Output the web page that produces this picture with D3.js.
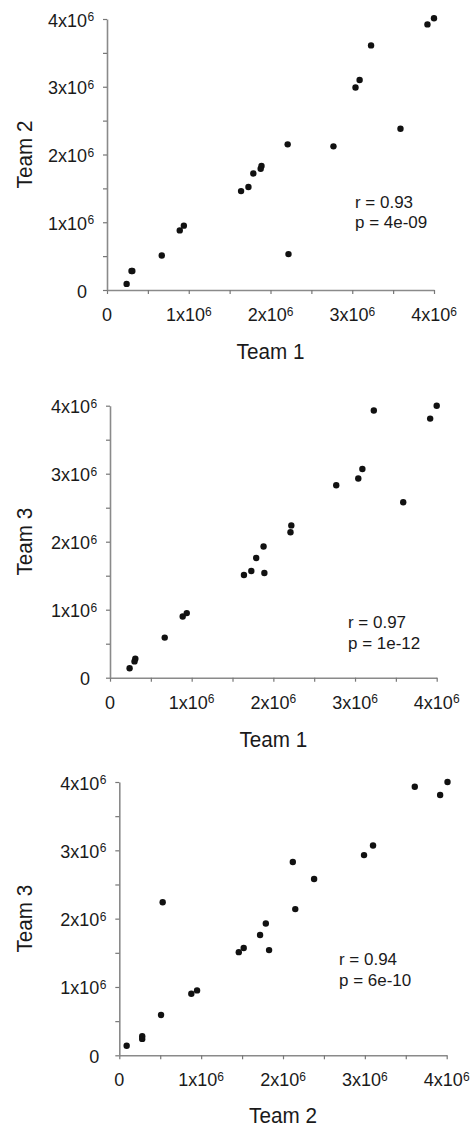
<!DOCTYPE html>
<html>
<head>
<meta charset="utf-8">
<title>Team correlations</title>
<script src="https://d3js.org/d3.v7.min.js"></script>
<style>
  body { margin: 0; background: #fff; }
  svg { display: block; font-family: "Liberation Sans", Arial, sans-serif; }
  .domain { stroke: #8a8a8a; stroke-width: 1.6; }
  .tick line { stroke: #777; stroke-width: 1.2; }
</style>
</head>
<body>
<div id="chart"></div>
<script>
// values in millions (x10^6), one entry per item, same order in every team
var team1 = [0.24, 0.30, 0.31, 0.67, 0.89, 0.94, 1.64, 1.73, 1.79, 1.88, 1.89, 2.21, 2.22, 2.77, 3.04, 3.09, 3.23, 3.59, 3.92, 4.00];
var team2 = [0.09, 0.28, 0.28, 0.51, 0.88, 0.95, 1.46, 1.52, 1.72, 1.79, 1.83, 2.15, 0.53, 2.12, 2.99, 3.10, 3.61, 2.38, 3.92, 4.01];
var team3 = [0.14, 0.24, 0.28, 0.59, 0.90, 0.95, 1.51, 1.57, 1.76, 1.93, 1.54, 2.14, 2.24, 2.83, 2.93, 3.07, 3.93, 2.58, 3.81, 4.00];

var tickValues = [0, 1, 2, 3, 4];
var tickLabels = ["0", "1x10", "2x10", "3x10", "4x10"];
var tickExp    = ["", "6", "6", "6", "6"];

var pairNames = [["Team 1", "Team 2"], ["Team 1", "Team 3"], ["Team 2", "Team 3"]];
var rValues = ["r = 0.93", "r = 0.97", "r = 0.94"];
var pValues = ["p = 4e-09", "p = 1e-12", "p = 6e-10"];

// where each panel sits on the page
var layout = [
  {x0: 107,   x1: 434,   y0: 290,    y1: 19,  sx: 355, sy: 207.5, tdy: 69},
  {x0: 110,   x1: 436.7, y0: 677.7,  y1: 405.7, sx: 348, sy: 628.3, tdy: 69},
  {x0: 119.3, x1: 446.7, y0: 1055.3, y1: 782, sx: 339, sy: 965, tdy: 67.5}
];
var series = [[team1, team2], [team1, team3], [team2, team3]];

const W = 471, H = 1127;
const svg = d3.select("#chart").append("svg")
  .attr("width", W).attr("height", H);
svg.append("rect").attr("width", W).attr("height", H).attr("fill", "#fff");

function label(g, x, y, str, size, sx, anchor, rot) {
  return g.append("text")
    .attr("transform", "translate(" + x + "," + y + ")" + (rot ? " rotate(" + rot + ")" : "") + " scale(" + sx + ",1)")
    .attr("text-anchor", anchor || "start")
    .style("font-size", size + "px")
    .attr("fill", "#1a1a1a")
    .text(str);
}

layout.forEach(function(L, k) {
  var g = svg.append("g");
  var xs = series[k][0], ys = series[k][1];

  var x = d3.scaleLinear().domain([0, 4]).range([L.x0, L.x1]);
  var y = d3.scaleLinear().domain([0, 4]).range([L.y0, L.y1]);

  var minor = d3.range(0, 4.01, 0.5);
  g.append("g")
    .attr("transform", "translate(0," + L.y0 + ")")
    .call(d3.axisBottom(x).tickValues(minor).tickSize(4).tickSizeOuter(0).tickFormat(""));
  g.append("g")
    .attr("transform", "translate(" + L.x0 + ",0)")
    .call(d3.axisLeft(y).tickValues(minor).tickSize(4).tickSizeOuter(0).tickFormat(""));

  // x tick labels, centred with the exponent
  tickValues.forEach(function(v, i) {
    var t = g.append("text")
      .attr("x", x(v)).attr("y", L.y0 + 31)
      .attr("text-anchor", "middle")
      .style("font-size", "18px")
      .attr("fill", "#1a1a1a")
      .text(tickLabels[i]);
    if (tickExp[i]) t.append("tspan").attr("dy", -5.5).style("font-size", "12px").text(tickExp[i]);
  });
  // y tick labels, base text right aligned, exponent hanging to the right
  tickValues.forEach(function(v, i) {
    var bx = L.x0 - 20, by = y(v) + 7.5;
    g.append("text")
      .attr("x", bx).attr("y", by)
      .attr("text-anchor", "end")
      .style("font-size", "18px")
      .attr("fill", "#1a1a1a")
      .text(tickLabels[i]);
    if (tickExp[i]) {
      g.append("text")
        .attr("x", bx + 0.5).attr("y", by - 5.5)
        .style("font-size", "12px")
        .attr("fill", "#1a1a1a")
        .text(tickExp[i]);
    }
  });

  // axis titles
  label(g, (L.x0 + L.x1) / 2, L.y0 + L.tdy, pairNames[k][0], 22, 0.94, "middle");
  label(g, 32, (L.y0 + L.y1) / 2, pairNames[k][1], 22, 0.94, "middle", -90);

  // points
  g.selectAll("circle")
    .data(d3.zip(xs, ys))
    .enter()
    .append("circle")
    .attr("cx", function(d) { return x(d[0]); })
    .attr("cy", function(d) { return y(d[1]); })
    .attr("r", 3.2)
    .attr("fill", "#111");

  // stats
  label(g, L.sx, L.sy, rValues[k], 16.5, 1.03);
  label(g, L.sx, L.sy + 20.5, pValues[k], 16.5, 1.03);
});
</script>
</body>
</html>
